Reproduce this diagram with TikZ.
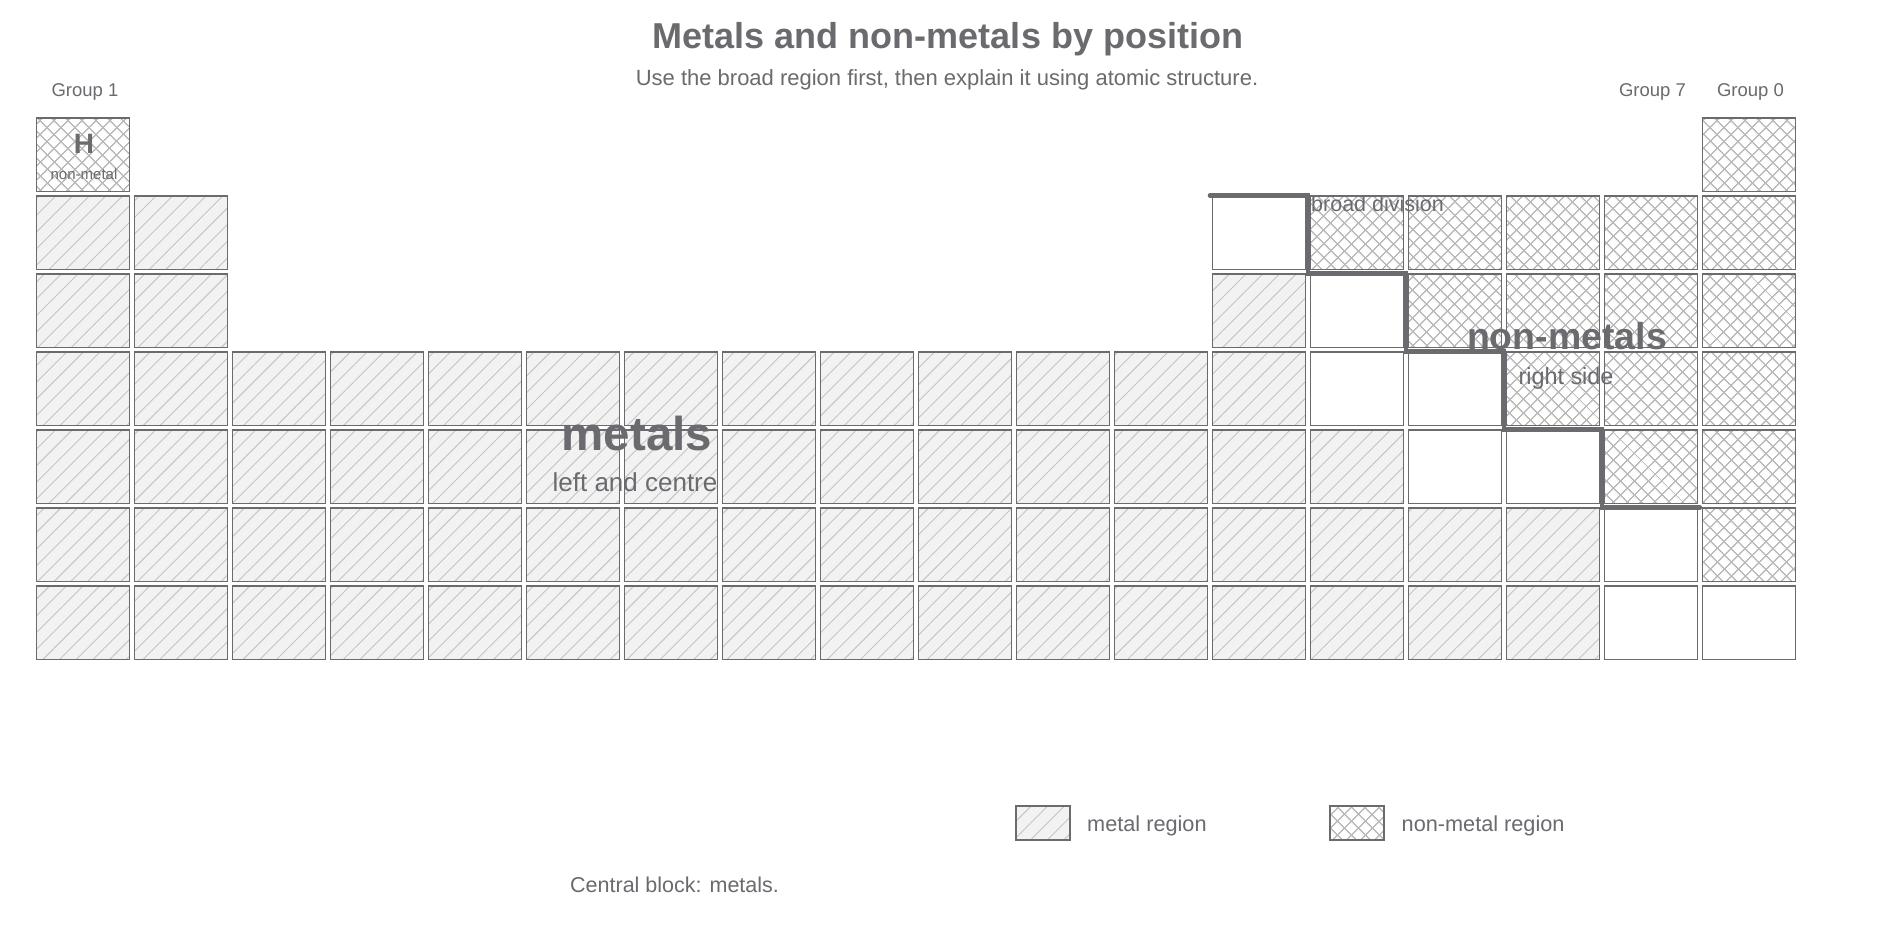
\documentclass[tikz,border=0pt]{standalone}
\usepackage{fontspec}
\setmainfont{Liberation Sans}
\usetikzlibrary{patterns.meta}
\definecolor{ink}{HTML}{6A6A6F}
\definecolor{metalfill}{HTML}{F2F2F2}
\definecolor{hatchc}{HTML}{C4C4C4}
\definecolor{crossc}{HTML}{BBBBBB}
\tikzset{
  cell/.style={draw=ink, line width=1.7pt, minimum width=93pt, minimum height=73.5pt, inner sep=0pt, outer sep=0pt},
  metalpat/.style={preaction={fill=metalfill}, pattern={Lines[angle=45,distance=11.8pt,line width=0.9pt]}, pattern color=hatchc},
  crosspat/.style={pattern={Hatch[angle=45,distance=10.5pt,line width=1.5pt]}, pattern color=crossc},
  metal/.style={cell, metalpat},
  nonmetal/.style={cell, crosspat},
  blank/.style={cell, fill=white},
  legbox/.style={draw=ink, line width=1.7pt, inner sep=0pt, minimum width=54pt, minimum height=34pt},
  lbl/.style={text=ink, inner sep=0pt, anchor=base},
  lblw/.style={text=ink, inner sep=0pt, anchor=base west},
  divline/.style={draw=ink, line width=4.5pt, line cap=round, line join=miter},
}
\begin{document}
\begin{tikzpicture}[x=1pt,y=-1pt]
\useasboundingbox[fill=white] (0,0) rectangle (1890,936);
% metal cells
\foreach \r in {1,2} {\foreach \c in {0,1} {\node[metal] (c\c-\r) at (82.95+98*\c,154.8+78*\r) {};}}
\node[metal] (c12-2) at (82.95+98*12,154.8+78*2) {};
\foreach \r/\m in {3/12,4/13,5/15,6/15} {\foreach \c in {0,...,\m} {\node[metal] (c\c-\r) at (82.95+98*\c,154.8+78*\r) {};}}
% blank cells
\foreach \r/\c in {1/12,2/13,3/13,3/14,4/14,4/15,5/16,6/16,6/17} {\node[blank] (c\c-\r) at (82.95+98*\c,154.8+78*\r) {};}
% non-metal cells
\node[nonmetal] (c0-0) at (82.95,154.8) {};
\node[nonmetal] (c17-0) at (82.95+98*17,154.8) {};
\foreach \r/\s in {1/13,2/14,3/15,4/16,5/17} {\foreach \c in {\s,...,17} {\node[nonmetal] (c\c-\r) at (82.95+98*\c,154.8+78*\r) {};}}
% dividing staircase
\draw[divline] (1209.95,195.5) -- (1307.95,195.5) -- (1307.95,273.5) -- (1405.95,273.5) -- (1405.95,351.5) -- (1503.95,351.5) -- (1503.95,429.5) -- (1601.95,429.5) -- (1601.95,507.5) -- (1699.95,507.5);
% titles
\node[lbl, font=\fontsize{36}{40}\selectfont\bfseries] (title) at (948,49) {Metals and non-metals by position};
\node[lbl, font=\fontsize{22}{26}\selectfont] (subtitle) at (947,86) {Use the broad region first, then explain it using atomic structure.};
% group labels
\node[lbl, font=\fontsize{18.5}{22}\selectfont] (g1) at (85,96.5) {Group 1};
\node[lbl, font=\fontsize{18.5}{22}\selectfont] (g7) at (1652.5,96.5) {Group 7};
\node[lbl, font=\fontsize{18.5}{22}\selectfont] (g0) at (1750.5,96.5) {Group 0};
% hydrogen
\node[lbl, font=\fontsize{28}{32}\selectfont\bfseries] (hsym) at (84,154) {H};
\node[lbl, font=\fontsize{15}{18}\selectfont] (hname) at (84,180) {non-metal};
% region labels
\node[lblw, font=\fontsize{21.5}{25}\selectfont] (broad) at (1311,212) {broad division};
\node[lbl, font=\fontsize{47.5}{52}\selectfont\bfseries] (metals) at (637,450.5) {metals};
\node[lbl, font=\fontsize{26}{30}\selectfont] (metalsub) at (635,491.5) {left and centre};
\node[lbl, font=\fontsize{37.5}{42}\selectfont\bfseries] (nonmetals) at (1567,349.5) {non-metals};
\node[lbl, font=\fontsize{23.4}{27}\selectfont] (nonmetalsub) at (1566,384) {right side};
% legend
\node[legbox, metalpat] (legm) at (1043,823) {};
\node[lblw, font=\fontsize{21.7}{25}\selectfont] (legmt) at (1087,831) {metal region};
\node[legbox, crosspat] (legn) at (1357,823) {};
\node[lblw, font=\fontsize{21.7}{25}\selectfont] (legnt) at (1401.5,831) {non-metal region};
% footer
\node[lblw, font=\fontsize{21.5}{25}\selectfont] (footer) at (570,892.5) {Central block: metals.};
\end{tikzpicture}
\end{document}
